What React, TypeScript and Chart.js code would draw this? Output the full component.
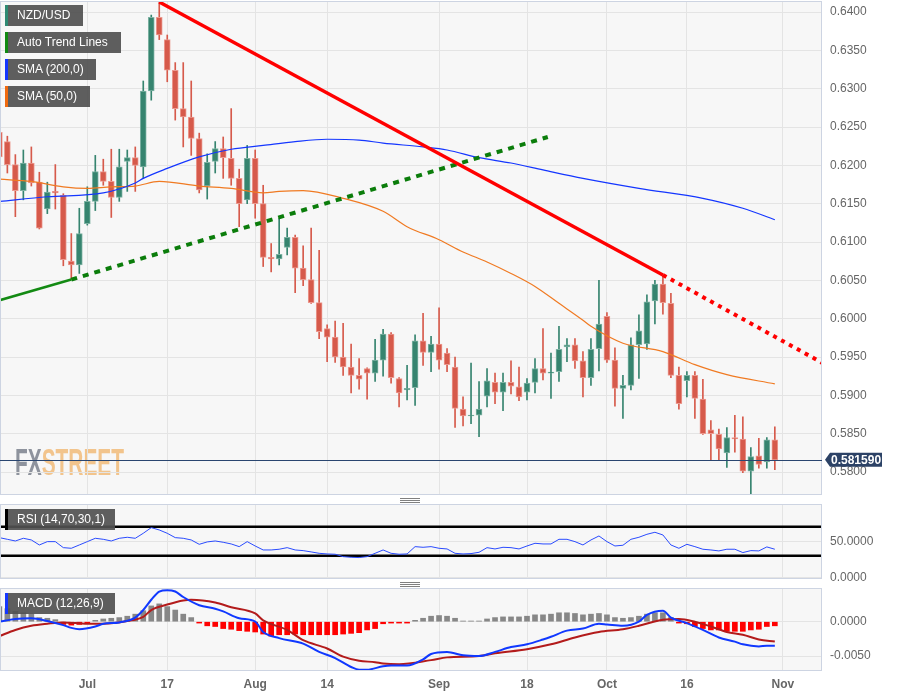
import { useEffect, useRef } from 'react';
import { Chart, registerables } from 'chart.js';

Chart.register(...registerables);

const FONT = "Arial, 'Liberation Sans', sans-serif";
const GREEN = '#36846f';
const RED = '#d65a4b';

// NZD/USD daily candles, 16 Jun - 31 Oct 2023 (index 0..97)
const opens = [
  0.6243, 0.6231, 0.6201, 0.6167, 0.6203, 0.6178, 0.6143, 0.6166, 0.6161, 0.6075,
  0.6070, 0.6124, 0.6153, 0.6192, 0.6179, 0.6158, 0.6205, 0.6210, 0.6198, 0.6297,
  0.6393, 0.6364, 0.6324, 0.6274, 0.6263, 0.6235, 0.6173, 0.6205, 0.6222, 0.6209,
  0.6183, 0.6155, 0.6209, 0.6150, 0.6080, 0.6078, 0.6093, 0.6106, 0.6066, 0.6051,
  0.6021, 0.5987, 0.5976, 0.5950, 0.5937, 0.5926, 0.5935, 0.5929, 0.5946, 0.5980,
  0.5922, 0.5907, 0.5910, 0.5971, 0.5956, 0.5967, 0.5955, 0.5937, 0.5882, 0.5873,
  0.5874, 0.5899, 0.5917, 0.5904, 0.5917, 0.5911, 0.5904, 0.5917, 0.5935, 0.5929,
  0.5931, 0.5963, 0.5966, 0.5945, 0.5923, 0.5961, 0.6003, 0.5946, 0.5909, 0.5913,
  0.5966, 0.5967, 0.6023, 0.6045, 0.6020, 0.5926, 0.5919, 0.5926, 0.5895, 0.5855,
  0.5849, 0.5825, 0.5845, 0.5843, 0.5801, 0.5821, 0.5813, 0.5842,
];
const highs = [
  0.6251, 0.6238, 0.6214, 0.6220, 0.6224, 0.6191, 0.6178, 0.6201, 0.6163, 0.6111,
  0.6144, 0.6172, 0.6213, 0.6208, 0.6221, 0.6221, 0.6220, 0.6224, 0.6310, 0.6396,
  0.6413, 0.6370, 0.6334, 0.6334, 0.6310, 0.6242, 0.6215, 0.6231, 0.6237, 0.6274,
  0.6195, 0.6226, 0.6220, 0.6174, 0.6098, 0.6131, 0.6118, 0.6109, 0.6095, 0.6118,
  0.6089, 0.5992, 0.5997, 0.5994, 0.5967, 0.5948, 0.5936, 0.5973, 0.5986, 0.5982,
  0.5923, 0.5939, 0.5979, 0.6007, 0.5977, 0.6014, 0.5961, 0.5950, 0.5898, 0.5942,
  0.5918, 0.5935, 0.5929, 0.5929, 0.5945, 0.5937, 0.5922, 0.5948, 0.5987, 0.5955,
  0.5990, 0.5974, 0.5974, 0.5957, 0.5974, 0.6050, 0.6008, 0.5962, 0.5926, 0.5975,
  0.6005, 0.6031, 0.6050, 0.6057, 0.6033, 0.5937, 0.5931, 0.5931, 0.5921, 0.5867,
  0.5856, 0.5858, 0.5874, 0.5872, 0.5832, 0.5844, 0.5845, 0.5859,
];
const lows = [
  0.6205, 0.6190, 0.6133, 0.6155, 0.6173, 0.6117, 0.6137, 0.6143, 0.6069, 0.6051,
  0.6059, 0.6122, 0.6141, 0.6174, 0.6132, 0.6153, 0.6166, 0.6166, 0.6183, 0.6285,
  0.6364, 0.6309, 0.6259, 0.6224, 0.6213, 0.6164, 0.6156, 0.6190, 0.6183, 0.6174,
  0.6120, 0.6150, 0.6131, 0.6068, 0.6061, 0.6070, 0.6083, 0.6034, 0.6043, 0.6020,
  0.5974, 0.5944, 0.5943, 0.5926, 0.5903, 0.5908, 0.5895, 0.5918, 0.5925, 0.5916,
  0.5885, 0.5894, 0.5887, 0.5939, 0.5931, 0.5934, 0.5931, 0.5858, 0.5860, 0.5863,
  0.5846, 0.5885, 0.5889, 0.5880, 0.5902, 0.5893, 0.5894, 0.5903, 0.5920, 0.5896,
  0.5918, 0.5944, 0.5935, 0.5898, 0.5913, 0.5932, 0.5943, 0.5886, 0.5870, 0.5907,
  0.5922, 0.5960, 0.5993, 0.6006, 0.5923, 0.5882, 0.5898, 0.5870, 0.5849, 0.5816,
  0.5816, 0.5806, 0.5826, 0.5799, 0.5771, 0.5805, 0.5805, 0.5803,
];
const closes = [
  0.6211, 0.6201, 0.6167, 0.6203, 0.6177, 0.6118, 0.6165, 0.6164, 0.6077, 0.6070,
  0.6111, 0.6153, 0.6192, 0.6179, 0.6158, 0.6198, 0.6210, 0.6200, 0.6297, 0.6393,
  0.6370, 0.6324, 0.6274, 0.6263, 0.6235, 0.6168, 0.6204, 0.6222, 0.6210, 0.6183,
  0.6150, 0.6209, 0.6150, 0.6080, 0.6078, 0.6084, 0.6106, 0.6066, 0.6051, 0.6021,
  0.5983, 0.5976, 0.5950, 0.5937, 0.5926, 0.5921, 0.5929, 0.5946, 0.5980, 0.5923,
  0.5903, 0.5909, 0.5971, 0.5956, 0.5967, 0.5946, 0.5940, 0.5883, 0.5873, 0.5874,
  0.5882, 0.5919, 0.5904, 0.5917, 0.5912, 0.5898, 0.5916, 0.5935, 0.5929, 0.5930,
  0.5960, 0.5966, 0.5945, 0.5923, 0.5960, 0.5993, 0.5946, 0.5909, 0.5913, 0.5966,
  0.5984, 0.6022, 0.6045, 0.6021, 0.5926, 0.5889, 0.5926, 0.5896, 0.5850, 0.5850,
  0.5830, 0.5845, 0.5843, 0.5801, 0.5820, 0.5810, 0.5842, 0.58159,
];
const lastPrice = 0.58159;

// date axis
const tickIdx = [11, 21, 32, 41, 55, 66, 76, 86, 98];
const tickText = ['Jul', '17', 'Aug', '14', 'Sep', '18', 'Oct', '16', 'Nov'];
const X_MIN = 0.08;
const X_MAX = 102.9;

// price axis
const priceTicks = [0.58, 0.585, 0.59, 0.595, 0.6, 0.605, 0.61, 0.615, 0.62, 0.625, 0.63, 0.635, 0.64];

// moving averages (read at sample days)
const sma200Idx = [0, 6, 13, 17, 18, 21, 25, 29, 33, 37, 41, 45, 48, 53, 56, 60, 64, 68, 73, 80, 88, 93, 97];
const sma200 = [0.6153, 0.6159, 0.6164, 0.6177, 0.6183, 0.6196, 0.6211, 0.6221, 0.6226, 0.6231, 0.6234, 0.6233,
  0.6229, 0.6224, 0.6220, 0.6210, 0.6203, 0.6194, 0.6183, 0.6170, 0.6157, 0.6144, 0.6129];
const sma50Idx = [0, 4, 8, 11, 14, 17, 20, 25, 29, 33, 35, 38, 43, 48, 51, 55, 58, 61, 64, 67, 70, 73, 74, 78, 83, 87, 91, 97];
const sma50 = [0.6182, 0.6179, 0.6172, 0.6170, 0.6172, 0.6173, 0.6179, 0.6173, 0.6170, 0.6164, 0.6166, 0.6167,
  0.6157, 0.6140, 0.6120, 0.6103, 0.6087, 0.6074, 0.6059, 0.6042, 0.6020, 0.5998, 0.5990, 0.5968, 0.5957,
  0.5940, 0.5927, 0.5915];

// auto trend lines
const resistIdx = [20, 83];
const resistVal = [0.6413, 0.6057];
const resistExtIdx = [83, 103];
const resistExtVal = [0.6057, 0.5942];
const supportIdx = [0, 9];
const supportVal = [0.6024, 0.6051];
const supportExtIdx = [9, 68.6];
const supportExtVal = [0.6051, 0.6237];

// RSI (14)
const rsi = [
  54.9, 52.6, 50.3, 54.0, 51.7, 44.8, 49.4, 49.4, 41.1, 40.2,
  44.8, 49.4, 54.0, 52.6, 50.3, 54.0, 55.4, 54.0, 60.9, 68.7,
  65.5, 60.9, 54.9, 54.0, 51.7, 45.7, 49.0, 50.3, 48.5, 46.2,
  42.5, 49.4, 43.4, 37.9, 37.9, 38.9, 41.1, 37.9, 37.0, 35.2,
  33.3, 32.4, 32.0, 28.7, 27.8, 27.4, 28.7, 33.3, 37.9, 33.3,
  32.0, 32.4, 42.5, 41.6, 42.5, 40.2, 39.3, 33.3, 32.4, 32.9,
  34.7, 41.1, 39.3, 41.6, 41.1, 39.3, 43.4, 47.1, 46.2, 46.2,
  52.6, 52.6, 49.4, 44.8, 51.7, 57.2, 49.4, 43.4, 44.4, 52.6,
  55.4, 59.5, 62.3, 58.6, 44.8, 40.2, 45.7, 42.5, 38.9, 37.9,
  36.6, 38.9, 38.9, 34.3, 37.0, 36.6, 42.1, 38.9,
];
const rsiLevels = [70, 30];
const rsiTicks = [0, 50];

// MACD (12,26,9)
const macdIdx = [0, 2, 4, 6, 8, 9, 10, 12, 13, 15, 17, 18, 19, 20, 21, 22, 23, 25, 27, 28, 30, 32, 33, 35, 38, 40,
  42, 44, 45, 46, 48, 49, 51, 53, 54, 56, 58, 60, 62, 64, 66, 68, 69, 71, 73, 75, 76, 78, 80, 81, 83, 84, 86, 88,
  90, 92, 93, 95, 96, 97];
const macd = [0.0, 0.0004, 0.0005, 0.0001, -0.0005, -0.0009, -0.0011, -0.0007, -0.0003, -0.0001, 0.0006, 0.0017,
  0.0032, 0.0044, 0.0046, 0.0044, 0.0036, 0.0024, 0.0019, 0.0015, 0.0005, 0.0, -0.0015, -0.0024, -0.0032, -0.0044,
  -0.0053, -0.0066, -0.0070, -0.0070, -0.0065, -0.0064, -0.0064, -0.0055, -0.0047, -0.0044, -0.0049, -0.0050,
  -0.0044, -0.0037, -0.0033, -0.0026, -0.0022, -0.0013, -0.0010, -0.0003, -0.0004, -0.0006, 0.0, 0.0010, 0.0016,
  0.0006, -0.0002, -0.0012, -0.0023, -0.0029, -0.0033, -0.0036, -0.0035, -0.0035];
const signalIdx = [0, 2, 4, 6, 8, 11, 13, 16, 18, 19, 21, 23, 24, 27, 29, 32, 33, 36, 38, 41, 43, 45, 47, 48, 50,
  54, 56, 60, 62, 66, 69, 72, 75, 78, 80, 83, 85, 87, 89, 91, 93, 95, 97];
const signal = [-0.0021, -0.0012, -0.0006, -0.0003, -0.0001, -0.0003, -0.0003, 0.0001, 0.0007, 0.0017, 0.0025,
  0.0031, 0.0032, 0.0028, 0.0021, 0.0012, 0.0002, -0.0012, -0.0027, -0.0039, -0.0051, -0.0057, -0.0059, -0.0061,
  -0.0062, -0.0056, -0.0052, -0.0050, -0.0046, -0.0040, -0.0033, -0.0023, -0.0015, -0.0011, -0.0006, 0.0003,
  0.0004, 0.0, -0.0007, -0.0015, -0.0019, -0.0026, -0.0029];
const histogram = [
  0.0022, 0.0019, 0.0015, 0.0013, 0.0011, 0.0006, 0.0005, 0.0003, -0.0004, -0.0005,
  -0.0004, -0.0002, 0.0002, 0.0004, 0.0005, 0.0006, 0.0008, 0.0011, 0.0016, 0.0023,
  0.0026, 0.0022, 0.0017, 0.0011, 0.0006, -0.0002, -0.0006, -0.0007, -0.0010, -0.0011,
  -0.0013, -0.0014, -0.0015, -0.0018, -0.0021, -0.0019, -0.0019, -0.0018, -0.0019, -0.0019,
  -0.0019, -0.0019, -0.0019, -0.0018, -0.0017, -0.0016, -0.0012, -0.0010, -0.0003, -0.0002,
  -0.0002, -0.0002, 0.0002, 0.0005, 0.0008, 0.0009, 0.0008, 0.0005, 0.0001, 0.0001,
  0.0001, 0.0004, 0.0006, 0.0007, 0.0007, 0.0007, 0.0008, 0.0010, 0.0010, 0.0011,
  0.0013, 0.0013, 0.0012, 0.0010, 0.0011, 0.0012, 0.0010, 0.0006, 0.0005, 0.0006,
  0.0008, 0.0011, 0.0013, 0.0013, 0.0006, -0.0002, -0.0003, -0.0007, -0.0010, -0.0012,
  -0.0012, -0.0014, -0.0014, -0.0014, -0.0012, -0.0011, -0.0007, -0.0006,
];
const macdTicks = [0, -0.005];

const pts = (xs: number[], ys: number[]) => xs.map((x, i) => ({ x, y: ys[i] }));

// x axis shared by the three panels; `below` is the space kept under the plot area
const xAxis = (showLabels: boolean, below: number) => ({
  type: 'linear' as const,
  min: X_MIN,
  max: X_MAX,
  offset: false,
  grid: { color: '#e4e4e4', drawTicks: false, offset: false },
  border: { display: false },
  ticks: {
    display: showLabels,
    autoSkip: false,
    maxRotation: 0,
    padding: 6,
    color: '#666',
    font: { family: FONT, size: 12, weight: 'bold' as const },
    callback: (v: any) => tickText[tickIdx.indexOf(Number(v))] ?? '',
  },
  afterBuildTicks: (s: any) => {
    s.ticks = tickIdx.map((v) => ({ value: v }));
  },
  afterFit: (s: any) => {
    s.height = below;
    s.paddingLeft = 0;
    s.paddingRight = 0;
  },
});

const yAxis = (min: number, max: number, values: number[]) => ({
  position: 'right' as const,
  min,
  max,
  beginAtZero: false,
  grid: { color: '#e4e4e4', drawTicks: false },
  border: { display: false },
  ticks: {
    padding: 8,
    color: '#666',
    font: { family: FONT, size: 12 },
    callback: (v: any) => Number(v).toFixed(4),
  },
  afterBuildTicks: (s: any) => {
    s.ticks = values.map((v) => ({ value: v }));
  },
  afterFit: (s: any) => {
    s.width = 76;
    s.paddingTop = 0;
    s.paddingBottom = 0;
  },
});

const panelFrame = {
  id: 'panelFrame',
  beforeDraw(chart: any) {
    const { ctx, chartArea: a } = chart;
    ctx.save();
    ctx.fillStyle = '#f7f7f7';
    ctx.fillRect(a.left, a.top, a.width, a.height);
    ctx.restore();
  },
  afterDraw(chart: any) {
    const { ctx, chartArea: a } = chart;
    ctx.save();
    ctx.strokeStyle = '#cdd4e2';
    ctx.lineWidth = 1;
    ctx.strokeRect(a.left + 0.5, a.top + 0.5, a.width - 1, a.height - 1);
    ctx.restore();
  },
};

const watermark = {
  id: 'watermark',
  beforeDraw(chart: any) {
    const { ctx, chartArea: a } = chart;
    ctx.save();
    ctx.font = `bold 36px ${FONT}`;
    const w1 = ctx.measureText('FX').width;
    const w2 = ctx.measureText('STREET').width;
    ctx.translate(a.left + 15, a.bottom - 20);
    ctx.scale(109 / (w1 + w2), 1);
    ctx.textBaseline = 'alphabetic';
    ctx.fillStyle = '#8e939d';
    ctx.fillText('FX', 0, 0);
    ctx.fillStyle = '#f2c48c';
    ctx.fillText('STREET', w1, 0);
    ctx.restore();
  },
};

const priceMarker = {
  id: 'priceMarker',
  afterDraw(chart: any) {
    const { ctx, chartArea: a, scales } = chart;
    const y = scales.y.getPixelForValue(lastPrice);
    ctx.save();
    ctx.strokeStyle = '#2a4670';
    ctx.lineWidth = 1;
    ctx.beginPath();
    ctx.moveTo(a.left, Math.round(y) + 0.5);
    ctx.lineTo(a.right, Math.round(y) + 0.5);
    ctx.stroke();
    ctx.fillStyle = '#2c4266';
    ctx.beginPath();
    ctx.moveTo(a.right + 3, y);
    ctx.lineTo(a.right + 8, y - 7);
    ctx.lineTo(a.right + 60, y - 7);
    ctx.lineTo(a.right + 60, y + 7);
    ctx.lineTo(a.right + 8, y + 7);
    ctx.closePath();
    ctx.fill();
    ctx.fillStyle = '#fff';
    ctx.font = `bold 12px ${FONT}`;
    ctx.textAlign = 'left';
    ctx.textBaseline = 'middle';
    ctx.fillText(lastPrice.toFixed(6), a.right + 9, y + 0.5);
    ctx.restore();
  },
};

const rsiBands = {
  id: 'rsiBands',
  beforeDatasetsDraw(chart: any) {
    const { ctx, chartArea: a, scales } = chart;
    ctx.save();
    ctx.strokeStyle = '#000';
    ctx.lineWidth = 2.5;
    rsiLevels.forEach((l) => {
      const py = scales.y.getPixelForValue(l);
      ctx.beginPath();
      ctx.moveTo(a.left, py);
      ctx.lineTo(a.right, py);
      ctx.stroke();
    });
    ctx.restore();
  },
};

const common = {
  responsive: false,
  animation: false as const,
  events: [],
  plugins: { legend: { display: false }, tooltip: { enabled: false } },
};

const legendBox = (top: number, width: number, stripe: string, text: string) => (
  <div
    key={text}
    style={{
      position: 'absolute',
      left: 5,
      top,
      width,
      height: 21,
      boxSizing: 'border-box',
      background: 'rgba(80,80,80,0.92)',
      borderLeft: `3px solid ${stripe}`,
      color: '#fff',
      font: `12px ${FONT}`,
      lineHeight: '21px',
      paddingLeft: 9,
      whiteSpace: 'nowrap',
    }}
  >
    {text}
  </div>
);

const handle = (top: number) => (
  <div style={{ position: 'absolute', left: 400, top, width: 20, height: 5 }}>
    {[0, 2, 4].map((o) => (
      <div key={o} style={{ position: 'absolute', left: 0, top: o, width: 20, height: 1, background: '#808080' }} />
    ))}
  </div>
);

export default function App() {
  const mainRef = useRef<HTMLCanvasElement>(null);
  const rsiRef = useRef<HTMLCanvasElement>(null);
  const macdRef = useRef<HTMLCanvasElement>(null);

  useEffect(() => {
    if (!mainRef.current || !rsiRef.current || !macdRef.current) return;
    const idx = closes.map((_, i) => i);
    const candleColors = closes.map((c, i) => (c >= opens[i] ? GREEN : RED));
    const edgeColors = closes.map((c, i) => (c >= opens[i] ? '#7fb3a4' : '#ec9a90'));

    const main = new Chart(mainRef.current, {
      type: 'bar',
      data: {
        datasets: [
          { type: 'line', data: pts(resistIdx, resistVal), borderColor: '#ff0000', borderWidth: 3.5, pointRadius: 0, order: 0 },
          { type: 'line', data: pts(resistExtIdx, resistExtVal), borderColor: '#ff0000', borderWidth: 4, borderDash: [4, 5], pointRadius: 0, order: 0 },
          { type: 'line', data: pts(supportIdx, supportVal), borderColor: '#138a13', borderWidth: 2.5, pointRadius: 0, order: 0 },
          { type: 'line', data: pts(supportExtIdx, supportExtVal), borderColor: '#0b7d0b', borderWidth: 4, borderDash: [6, 6], pointRadius: 0, order: 0 },
          { type: 'line', data: pts(sma200Idx, sma200), borderColor: '#1436ff', borderWidth: 1.2, pointRadius: 0, cubicInterpolationMode: 'monotone', order: 1 },
          { type: 'line', data: pts(sma50Idx, sma50), borderColor: '#f07a22', borderWidth: 1.2, pointRadius: 0, cubicInterpolationMode: 'monotone', order: 1 },
          {
            type: 'bar',
            data: idx.map((i) => ({ x: i, y: [opens[i], closes[i]] })) as any,
            backgroundColor: candleColors,
            borderColor: edgeColors,
            borderWidth: 1,
            borderSkipped: false,
            barThickness: 6,
            minBarLength: 1,
            grouped: false,
            order: 5,
          },
          {
            type: 'bar',
            data: idx.map((i) => ({ x: i, y: [lows[i], highs[i]] })) as any,
            backgroundColor: candleColors,
            barThickness: 1,
            grouped: false,
            order: 6,
          },
        ],
      },
      options: {
        ...common,
        layout: { padding: { top: 1, bottom: 1, left: 0, right: 0 } },
        scales: {
          x: xAxis(false, 0),
          y: yAxis(0.577, 0.641435, priceTicks),
        },
      } as any,
      plugins: [panelFrame, watermark, priceMarker],
    });

    const rsiChart = new Chart(rsiRef.current, {
      type: 'line',
      data: {
        datasets: [
          { data: pts(idx, rsi), borderColor: '#2a4bff', borderWidth: 1, pointRadius: 0, tension: 0 },
        ],
      },
      options: {
        ...common,
        layout: { padding: 0 },
        scales: {
          x: xAxis(false, 12),
          y: yAxis(-2.15, 101.3, rsiTicks),
        },
      } as any,
      plugins: [panelFrame, rsiBands],
    });

    const macdChart = new Chart(macdRef.current, {
      type: 'bar',
      data: {
        datasets: [
          { type: 'line', data: pts(macdIdx, macd), borderColor: '#1038ff', borderWidth: 2, pointRadius: 0, cubicInterpolationMode: 'monotone', order: 0 },
          { type: 'line', data: pts(signalIdx, signal), borderColor: '#b31b1b', borderWidth: 2, pointRadius: 0, cubicInterpolationMode: 'monotone', order: 0 },
          {
            type: 'bar',
            data: pts(idx, histogram),
            backgroundColor: histogram.map((h) => (h >= 0 ? '#878787' : '#ff0000')),
            barThickness: 5,
            grouped: false,
            order: 2,
          },
        ],
      },
      options: {
        ...common,
        layout: { padding: 0 },
        scales: {
          x: xAxis(true, 26),
          y: yAxis(-0.007186, 0.004913, macdTicks),
        },
      } as any,
      plugins: [panelFrame],
    });

    return () => {
      main.destroy();
      rsiChart.destroy();
      macdChart.destroy();
    };
  }, []);

  return (
    <div style={{ position: 'fixed', left: 0, top: 0, width: 898, height: 697, background: '#fff', overflow: 'hidden' }}>
      <canvas ref={mainRef} width={898} height={496} style={{ position: 'absolute', left: 0, top: 0 }} />
      <canvas ref={rsiRef} width={898} height={87} style={{ position: 'absolute', left: 0, top: 504 }} />
      <canvas ref={macdRef} width={898} height={109} style={{ position: 'absolute', left: 0, top: 588 }} />
      {legendBox(5, 78, '#2f8a73', 'NZD/USD')}
      {legendBox(32, 116, '#118a12', 'Auto Trend Lines')}
      {legendBox(59, 91, '#1436ff', 'SMA (200,0)')}
      {legendBox(86, 85, '#f06a0f', 'SMA (50,0)')}
      {legendBox(509, 110, '#000', 'RSI (14,70,30,1)')}
      {legendBox(593, 110, '#1436ff', 'MACD (12,26,9)')}
      {handle(498)}
      {handle(582)}
    </div>
  );
}
